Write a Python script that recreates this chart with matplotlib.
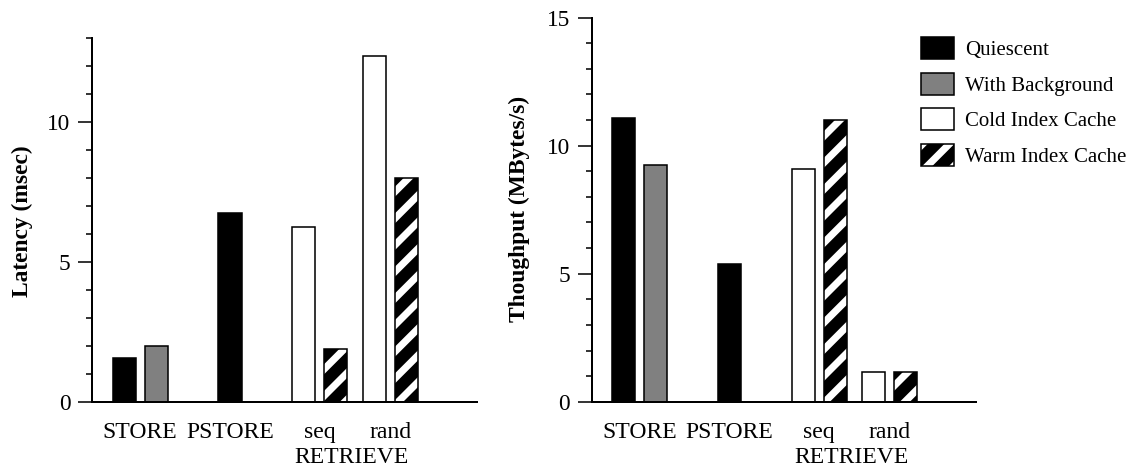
import matplotlib
matplotlib.use("Agg")
import matplotlib.pyplot as plt
from matplotlib.ticker import MultipleLocator, NullFormatter

# ---- data -------------------------------------------------------------
series = ["Quiescent", "With Background", "Cold Index Cache", "Warm Index Cache"]
op_labels = ["STORE", "PSTORE", "seq", "rand"]
group_label = "RETRIEVE"

# Latency (msec)
lat_quiescent = [1.58, 6.74]      # STORE, PSTORE
lat_background = [2.0]            # STORE
lat_cold = [6.25, 12.37]          # seq, rand
lat_warm = [1.9, 8.02]            # seq, rand

# Throughput (MBytes/s)
thr_quiescent = [11.09, 5.38]     # STORE, PSTORE
thr_background = [9.25]           # STORE
thr_cold = [9.09, 1.17]           # seq, rand
thr_warm = [11.0, 1.17]           # seq, rand

# ---- layout -----------------------------------------------------------
DPI = 160
W, H = 1136, 470
plt.rcParams["font.family"] = ["Liberation Serif", "DejaVu Serif"]
plt.rcParams["hatch.linewidth"] = 3.2

x_quiescent = [1.0, 4.3]
x_background = [2.0]
x_cold = [6.6, 8.8]
x_warm = [7.6, 9.8]
label_x = [1.5, 4.3, 7.1, 9.3]
group_x = 8.1
BAR_W = 0.72
EDGE_LW = 0.7

fig = plt.figure(figsize=(W / DPI, H / DPI), dpi=DPI)


def px_axes(x0, y_top, x1, y_bot):
    return fig.add_axes([x0 / W, (H - y_bot) / H, (x1 - x0) / W, (y_bot - y_top) / H])


def draw_panel(ax, q, b, c, w, ymax, ylabel, label_px):
    hq = ax.bar(x_quiescent, q, BAR_W, color="black", edgecolor="black", linewidth=EDGE_LW)
    hb = ax.bar(x_background, b, BAR_W, color="#808080", edgecolor="black", linewidth=EDGE_LW)
    hc = ax.bar(x_cold, c, BAR_W, color="white", edgecolor="black", linewidth=EDGE_LW)
    hw_fill = ax.bar(x_warm, w, BAR_W, color="black", edgecolor="white", linewidth=0, hatch="//")
    hw_edge = ax.bar(x_warm, w, BAR_W, fill=False, edgecolor="black", linewidth=EDGE_LW)

    ax.set_xlim(0, 12)
    ax.set_ylim(0, ymax)
    for s in ("top", "right"):
        ax.spines[s].set_visible(False)
    for s in ("left", "bottom"):
        ax.spines[s].set_linewidth(0.9)
    ax.set_xticks([])
    ax.yaxis.set_major_locator(MultipleLocator(5))
    ax.yaxis.set_minor_locator(MultipleLocator(1))
    ax.yaxis.set_minor_formatter(NullFormatter())
    ax.tick_params(axis="y", which="major", length=6.1, width=0.7, pad=3.6, labelsize=10.5)
    ax.tick_params(axis="y", which="minor", length=2.9, width=0.7)

    for xl, txt in zip(label_x, op_labels):
        ax.annotate(txt, xy=(xl, 0), xycoords=("data", "axes fraction"),
                    xytext=(0, -36), textcoords="offset pixels",
                    ha="center", va="baseline", fontsize=10.7)
    ax.annotate(group_label, xy=(group_x, 0), xycoords=("data", "axes fraction"),
                xytext=(0, -61), textcoords="offset pixels",
                ha="center", va="baseline", fontsize=10.7)

    fig.text(label_px[0] / W, 1 - label_px[1] / H, ylabel, rotation=90,
             ha="center", va="center", fontsize=10.6, fontweight="bold")
    return hq, hb, hc, (hw_fill, hw_edge)


ax1 = px_axes(92, 38, 477, 402.3)
draw_panel(ax1, lat_quiescent, lat_background, lat_cold, lat_warm, 13,
           "Latency (msec)", (22, 221))

ax2 = px_axes(591.7, 17.7, 976, 401.7)
handles = draw_panel(ax2, thr_quiescent, thr_background, thr_cold, thr_warm, 15,
                     "Thoughput (MBytes/s)", (519, 209))

fs_leg = 9.4
em = fs_leg * DPI / 72
ax2.legend(handles, series, loc="upper left",
           bbox_to_anchor=(920.7 / W, 1 - 37.3 / H), bbox_transform=fig.transFigure,
           frameon=False, borderpad=0, borderaxespad=0, fontsize=fs_leg,
           handlelength=33 / em, handleheight=26 / em, handletextpad=11 / em,
           labelspacing=12.4 / em)

fig.savefig("out.png", dpi=DPI)
